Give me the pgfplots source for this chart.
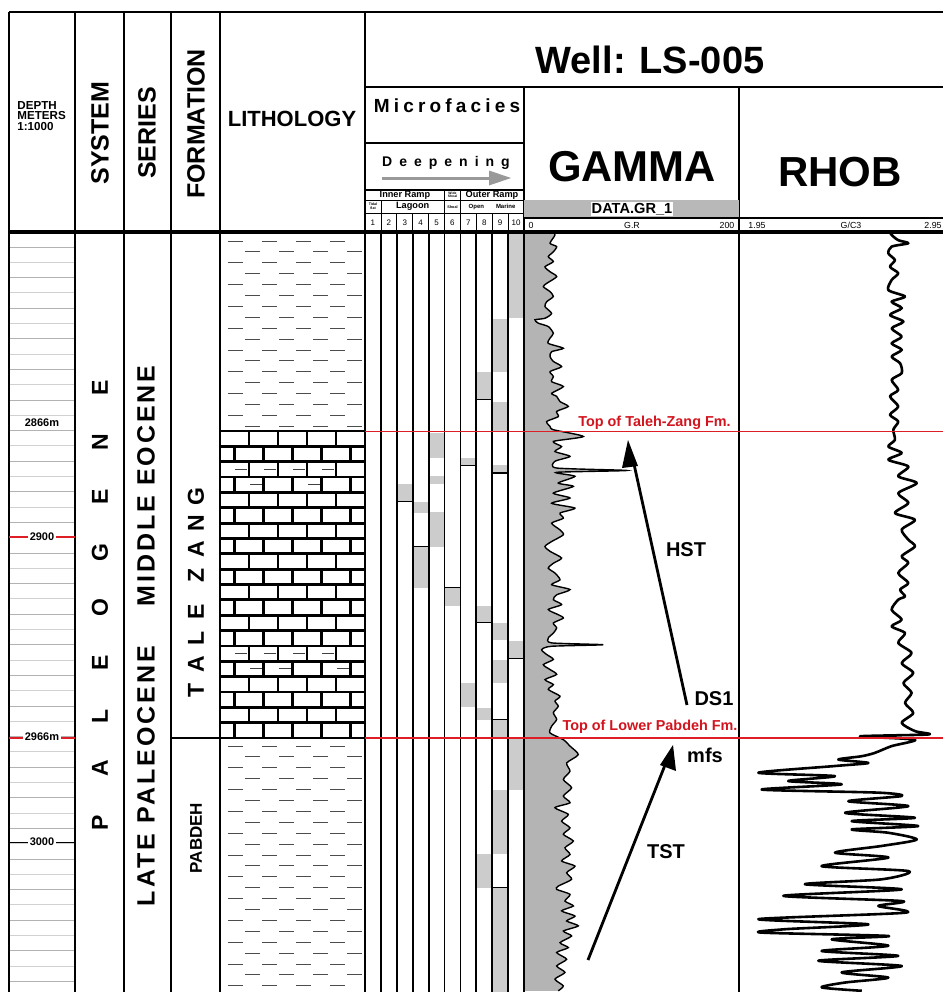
\documentclass[border=0pt]{standalone}
\usepackage{pgfplots}
\pgfplotsset{compat=1.18}
\usepackage{pgfplotstable}
\usepackage{fontspec}
\setmainfont{Liberation Sans}
\definecolor{mfgray}{RGB}{204,204,204}
\definecolor{grfill}{RGB}{180,180,180}
\definecolor{redl}{RGB}{222,30,36}
\definecolor{redt}{RGB}{210,20,30}
\newcommand{\fs}[1]{\fontsize{#1}{#1}\selectfont\bfseries}

\pgfplotstableread{
gr depth
25.7 2800.2
28.8 2801.8
24.2 2804.5
30.4 2805.6
27.3 2807.3
22.6 2808.9
27.3 2810.5
19.5 2812.2
24.2 2813.8
30.4 2815.4
21.1 2817.6
18.0 2818.7
24.2 2820.3
27.3 2821.9
21.1 2823.6
19.5 2825.2
25.7 2827.4
19.5 2829.0
10.2 2829.5
13.3 2830.6
22.6 2831.7
27.3 2833.9
24.2 2835.5
22.6 2837.2
36.6 2838.8
25.7 2839.9
24.2 2841.5
27.3 2843.1
35.0 2844.8
24.2 2846.4
27.3 2848.0
25.7 2849.7
36.6 2851.3
25.7 2853.5
30.4 2854.5
33.5 2856.2
41.2 2857.8
30.4 2859.4
31.9 2861.1
21.1 2862.7
24.2 2864.3
27.3 2865.4
55.2 2867.6
27.3 2869.2
35.0 2870.9
28.8 2872.5
42.8 2874.1
28.8 2875.7
30.4 2877.9
95.5 2878.7
30.4 2879.3
47.4 2880.6
31.9 2882.8
45.9 2883.9
27.3 2886.1
42.8 2887.7
25.7 2889.4
47.4 2891.0
33.5 2892.6
36.6 2894.3
25.7 2895.9
33.5 2898.1
36.6 2899.7
25.7 2901.9
19.5 2903.5
24.2 2905.1
35.0 2907.3
27.3 2909.0
22.6 2910.6
28.8 2912.2
33.5 2914.4
25.7 2916.0
42.8 2917.6
30.4 2919.3
27.3 2920.9
35.0 2922.5
22.6 2924.1
31.9 2925.8
36.6 2926.9
27.3 2928.5
30.4 2930.1
27.3 2931.8
22.6 2933.4
25.7 2935.0
73.8 2935.6
25.7 2936.1
16.4 2937.2
21.1 2938.8
27.3 2940.4
18.0 2942.1
24.2 2943.7
30.4 2945.3
19.5 2947.0
27.3 2948.6
22.6 2950.2
33.5 2952.4
28.8 2954.0
31.9 2955.7
27.3 2957.8
30.4 2960.0
25.7 2962.2
24.2 2964.4
36.6 2966.6
42.8 2968.7
50.5 2971.5
39.7 2974.2
42.8 2976.9
36.6 2979.6
44.3 2982.3
36.6 2985.0
42.8 2987.2
28.8 2988.8
41.2 2991.0
35.0 2993.2
42.8 2995.4
36.6 2997.5
45.9 2999.7
38.1 3001.9
42.8 3004.1
35.0 3006.2
47.4 3007.9
39.7 3010.0
44.3 3012.2
31.9 3014.4
30.4 3015.5
42.8 3017.1
38.1 3019.3
45.9 3020.9
35.0 3022.5
47.4 3024.2
39.7 3025.8
50.5 3027.4
36.6 3029.1
44.3 3030.7
33.5 3032.9
41.2 3034.5
30.4 3036.1
39.7 3038.3
30.4 3040.5
38.1 3042.6
28.8 3044.8
36.6 3047.0
31.9 3048.6
}\grdata

\pgfplotstableread{
rhob depth
2.675 2800.2
2.691 2801.8
2.723 2803.5
2.772 2804.5
2.691 2805.6
2.675 2807.8
2.707 2810.0
2.683 2812.2
2.723 2814.3
2.691 2816.5
2.675 2819.8
2.756 2821.9
2.691 2823.6
2.740 2825.7
2.683 2827.9
2.748 2830.1
2.691 2832.3
2.740 2835.0
2.691 2837.2
2.740 2839.3
2.691 2841.5
2.732 2843.7
2.740 2846.9
2.691 2849.1
2.723 2852.4
2.683 2854.5
2.723 2857.8
2.683 2860.5
2.723 2862.7
2.699 2865.4
2.707 2868.7
2.675 2870.9
2.740 2873.0
2.675 2875.2
2.772 2877.4
2.723 2880.6
2.813 2882.8
2.723 2886.1
2.772 2889.3
2.707 2892.6
2.804 2894.8
2.740 2898.0
2.772 2901.3
2.804 2903.5
2.740 2906.7
2.772 2908.9
2.723 2912.2
2.772 2915.4
2.732 2917.6
2.756 2919.8
2.723 2920.9
2.691 2924.2
2.740 2927.4
2.691 2929.6
2.756 2931.8
2.723 2935.0
2.788 2938.3
2.740 2941.6
2.796 2944.8
2.748 2948.1
2.788 2951.3
2.756 2954.6
2.796 2957.9
2.740 2961.1
2.804 2963.8
2.869 2964.9
2.537 2965.5
2.804 2966.6
2.691 2968.7
2.610 2970.9
2.546 2972.0
2.432 2973.1
2.578 2974.2
2.416 2975.2
2.044 2977.4
2.416 2978.5
2.189 2980.1
2.448 2981.2
2.060 2982.9
2.626 2983.9
2.740 2985.0
2.481 2986.7
2.772 2988.3
2.465 2990.5
2.804 2992.1
2.497 2993.2
2.820 2994.8
2.497 2995.9
2.675 2997.0
2.813 2999.2
2.643 3001.3
2.416 3003.5
2.675 3005.1
2.351 3007.9
2.772 3009.5
2.643 3012.2
2.270 3013.8
2.740 3015.5
2.165 3017.6
2.740 3019.3
2.626 3020.9
2.756 3023.1
2.044 3025.2
2.578 3026.9
2.173 3028.5
2.060 3029.6
2.675 3030.7
2.400 3031.8
2.675 3033.9
2.351 3035.6
2.723 3037.2
2.335 3038.8
2.740 3040.5
2.448 3042.6
2.675 3044.3
2.465 3045.9
2.351 3047.5
2.546 3048.6
}\rhobdata

\begin{document}
\begin{tikzpicture}
\pgfplotsset{track/.style={scale only axis, axis lines=none, y dir=reverse, ymin=2801, ymax=3049, height=379.75pt, anchor=north west, clip=true}}

% ---------- microfacies ----------
\begin{axis}[track, at={(182.5pt,-116.25pt)}, width=79.5pt, xmin=0, xmax=10]
\addplot[fill=mfgray, draw=none] coordinates {(9,2801) (10,2801) (10,2828.9) (9,2828.9)} -- cycle;
\addplot[fill=mfgray, draw=none] coordinates {(8,2829.2) (9,2829.2) (9,2846.5) (8,2846.5)} -- cycle;
\addplot[fill=mfgray, draw=none] coordinates {(8,2856.3) (9,2856.3) (9,2866.0) (8,2866.0)} -- cycle;
\addplot[fill=mfgray, draw=none] coordinates {(8,2876.9) (9,2876.9) (9,2879.5) (8,2879.5)} -- cycle;
\addplot[fill=mfgray, draw=none] coordinates {(7,2846.5) (8,2846.5) (8,2855.6) (7,2855.6)} -- cycle;
\addplot[fill=mfgray, draw=none] coordinates {(4,2866.4) (5,2866.4) (5,2874.6) (4,2874.6)} -- cycle;
\addplot[fill=mfgray, draw=none] coordinates {(4,2880.4) (5,2880.4) (5,2883.1) (4,2883.1)} -- cycle;
\addplot[fill=mfgray, draw=none] coordinates {(6,2874.6) (7,2874.6) (7,2877.2) (6,2877.2)} -- cycle;
\addplot[fill=mfgray, draw=none] coordinates {(2,2883.1) (3,2883.1) (3,2888.9) (2,2888.9)} -- cycle;
\addplot[fill=mfgray, draw=none] coordinates {(3,2888.9) (4,2888.9) (4,2892.5) (3,2892.5)} -- cycle;
\addplot[fill=mfgray, draw=none] coordinates {(4,2892.2) (5,2892.2) (5,2903.6) (4,2903.6)} -- cycle;
\addplot[fill=mfgray, draw=none] coordinates {(3,2903.6) (4,2903.6) (4,2917.0) (3,2917.0)} -- cycle;
\addplot[fill=mfgray, draw=none] coordinates {(5,2917.0) (6,2917.0) (6,2922.9) (5,2922.9)} -- cycle;
\addplot[fill=mfgray, draw=none] coordinates {(7,2922.9) (8,2922.9) (8,2928.4) (7,2928.4)} -- cycle;
\addplot[fill=mfgray, draw=none] coordinates {(8,2928.4) (9,2928.4) (9,2934.0) (8,2934.0)} -- cycle;
\addplot[fill=mfgray, draw=none] coordinates {(9,2934.3) (10,2934.3) (10,2940.2) (9,2940.2)} -- cycle;
\addplot[fill=mfgray, draw=none] coordinates {(8,2940.5) (9,2940.5) (9,2948.0) (8,2948.0)} -- cycle;
\addplot[fill=mfgray, draw=none] coordinates {(6,2948.0) (7,2948.0) (7,2955.8) (6,2955.8)} -- cycle;
\addplot[fill=mfgray, draw=none] coordinates {(7,2956.1) (8,2956.1) (8,2960.1) (7,2960.1)} -- cycle;
\addplot[fill=mfgray, draw=none] coordinates {(8,2960.1) (9,2960.1) (9,2966.0) (8,2966.0)} -- cycle;
\addplot[fill=mfgray, draw=none] coordinates {(9,2966.0) (10,2966.0) (10,2982.9) (9,2982.9)} -- cycle;
\addplot[fill=mfgray, draw=none] coordinates {(8,2982.9) (9,2982.9) (9,3003.8) (8,3003.8)} -- cycle;
\addplot[fill=mfgray, draw=none] coordinates {(7,3003.8) (8,3003.8) (8,3014.9) (7,3014.9)} -- cycle;
\addplot[fill=mfgray, draw=none] coordinates {(8,3014.9) (9,3014.9) (9,3049) (8,3049)} -- cycle;
% dark boundary lines
\addplot[black, line width=0.6pt] coordinates {(7,2855.6) (8,2855.6)};
\addplot[black, line width=0.6pt] coordinates {(8,2879.5) (9,2879.5)};
\addplot[black, line width=0.6pt] coordinates {(6,2877.2) (7,2877.2)};
\addplot[black, line width=0.6pt] coordinates {(2,2888.9) (3,2888.9)};
\addplot[black, line width=0.6pt] coordinates {(3,2903.6) (4,2903.6)};
\addplot[black, line width=0.6pt] coordinates {(5,2917.0) (6,2917.0)};
\addplot[black, line width=0.6pt] coordinates {(7,2928.4) (8,2928.4)};
\addplot[black, line width=0.6pt] coordinates {(9,2940.2) (10,2940.2)};
\addplot[black, line width=0.6pt] coordinates {(8,2960.1) (9,2960.1)};
\addplot[black, line width=0.6pt] coordinates {(8,3014.9) (9,3014.9)};
\end{axis}

% ---------- gamma ray ----------
\begin{axis}[track, at={(262pt,-116.25pt)}, width=107.5pt, xmin=0, xmax=200]
\addplot[fill=grfill, draw=none, smooth, tension=0.4] table[x=gr,y=depth] {\grdata} -- (axis cs:0,3048.6) -- (axis cs:0,2800.2) -- cycle;
\addplot[black, line width=0.7pt, smooth, tension=0.4] table[x=gr,y=depth] {\grdata};
\end{axis}

% ---------- RHOB ----------
\begin{axis}[track, at={(369.5pt,-116.25pt)}, width=103pt, xmin=1.95, xmax=2.95]
\addplot[black, line width=1.3pt, smooth, tension=0.45, line join=round] table[x=rhob,y=depth] {\rhobdata};
\end{axis}

% ---------- frame, patterns, text (pixel units) ----------
\begin{scope}[x=0.5pt,y=-0.5pt]
% depth column thin lines
\foreach \k in {0,...,48}{
  \pgfmathtruncatemacro\odd{mod(\k,2)}
  \ifnum\odd=0 \def\lc{black!30}\else\def\lc{black!18}\fi
  \draw[\lc, line width=0.5pt] (9,247+\k*15.3) -- (75,247+\k*15.3);
}
% shale patterns
\foreach \r in {0,...,17}{
  \pgfmathtruncatemacro\odd{mod(\r,2)}
  \foreach \j in {0,...,3}{
    \pgfmathsetmacro\xa{228+\j*34+\odd*17}
    \draw[black!70, line width=0.45pt] (\xa,241+\r*10.9) -- ++(15,0);
  }
}
\foreach \r in {0,...,22}{
  \pgfmathtruncatemacro\odd{mod(\r,2)}
  \foreach \j in {0,...,3}{
    \pgfmathsetmacro\xa{228+\j*34+\odd*17}
    \draw[black!70, line width=0.45pt] (\xa,746+\r*10.9) -- ++(15,0);
  }
}
% limestone bricks
\foreach \k in {0,...,20}{
  \draw[black, line width=1.4pt] (220,431+\k*15.35) -- (365,431+\k*15.35);
}
\foreach \k in {0,...,19}{
  \pgfmathtruncatemacro\odd{mod(\k,2)}
  \pgfmathsetmacro\off{\odd==0 ? 29 : 14.5}
  \foreach \j in {0,...,4}{
    \pgfmathsetmacro\xv{220+\off+\j*29}
    \pgfmathparse{\xv<362 ? 1 : 0}
    \ifnum\pgfmathresult=1
      \draw[black, line width=1.4pt] (\xv,431+\k*15.35) -- (\xv,431+\k*15.35+15.35);
    \fi
  }
}
% argillaceous dashes in limestone
\foreach \xx/\yy in {241/469, 270/469, 299/469, 328/469, 256/484, 314/484, 241/653, 270/653, 299/653, 328/653, 256/668, 285/668, 343/668}{
  \draw[black!75, line width=0.5pt] (\xx-6,\yy) -- (\xx+6,\yy);
}

% main column lines
\draw[black, line width=1.2pt] (9,12) -- (943,12);
\foreach \xx in {9,75,124,171,220}{\draw[black, line width=1.1pt] (\xx,12) -- (\xx,992);}
\draw[black, line width=1.4pt] (365,12) -- (365,992);
\draw[black, line width=1.1pt] (524,87) -- (524,992);
\draw[black, line width=1.1pt] (739,87) -- (739,992);
\draw[black, line width=1.1pt] (365,87) -- (943,87);
% formation boundary line
\draw[black, line width=1.1pt] (171,738) -- (220,738);
% microfacies header
\draw[black, line width=0.9pt] (365,143) -- (524,143);
\draw[black, line width=0.6pt] (365,190) -- (524,190);
\draw[black, line width=0.4pt] (365,200) -- (524,200);
\draw[black, line width=0.4pt] (365,213) -- (524,213);
\draw[black, line width=0.4pt] (444.5,190) -- (444.5,213);
\draw[black, line width=0.4pt] (460.4,190) -- (460.4,213);
\draw[black, line width=0.4pt] (380.9,200) -- (380.9,213);
\foreach \k in {1,...,9}{
  \draw[black, line width=0.4pt] (365+\k*15.9,213) -- (365+\k*15.9,232);
  \draw[black, line width=0.9pt] (365+\k*15.9,232) -- (365+\k*15.9,992);
}
\foreach \k in {1,...,10}{
  \node[font=\fs{4}\mdseries, inner sep=0] at (357.05+\k*15.9,222.5) {\k};
}
\node[font=\fs{4.6}, inner sep=0] at (405,195) {Inner Ramp};
\node[font=\fs{4.6}, inner sep=0] at (492,195) {Outer Ramp};
\node[font=\fs{1.7}, inner sep=0, align=center] at (452.5,195) {Wide\\Shoal};
\node[font=\fs{4.6}, inner sep=0] at (412.7,206.5) {Lagoon};
\node[font=\fs{1.8}, inner sep=0, align=center] at (373,206.5) {Tidal\\flat};
\node[font=\fs{1.9}, inner sep=0] at (452.5,207) {Shoal};
\node[font=\fs{3}, inner sep=0] at (492,207) {Open\hspace{6pt}Marine};
\node[font=\fs{9.5}\addfontfeature{LetterSpace=22}, inner sep=0] at (447,106) {Microfacies};
\node[font=\fs{7}\addfontfeature{LetterSpace=50}, inner sep=0] at (446,163) {Deepening};
\fill[black!40] (382,176.5) rectangle (492,179.5);
\fill[black!40] (489,170.5) -- (511,178) -- (489,185.5) -- cycle;

% gamma / rhob header
\fill[black!28] (524,200) rectangle (739,217);
\node[font=\fs{7.3}, fill=white, inner sep=0.6pt] at (632,209) {DATA.GR\_1};
\draw[black, line width=0.7pt] (524,218) -- (943,218);
\node[font=\fs{4.4}\mdseries, inner sep=0] at (531,225.5) {0};
\node[font=\fs{4.4}\mdseries, inner sep=0] at (632,225.5) {G.R};
\node[font=\fs{4.4}\mdseries, inner sep=0] at (727,225.5) {200};
\node[font=\fs{4.4}\mdseries, inner sep=0] at (757,225.5) {1.95};
\node[font=\fs{4.4}\mdseries, inner sep=0] at (851,225.5) {G/C3};
\node[font=\fs{4.4}\mdseries, inner sep=0, anchor=east] at (942,225.5) {2.95};
\node[font=\fs{21.6}, inner sep=0] at (632,167) {GAMMA};
\node[font=\fs{21}, inner sep=0] at (840,172) {RHOB};
\node[font=\fs{19}, inner sep=0] at (650,60) {Well: LS-005};

% header texts
\node[font=\fs{5.8}, align=left, inner sep=0, anchor=west] at (17,116) {DEPTH\\[-0.5pt]METERS\\[-0.5pt]1:1000};
\node[font=\fs{12.5}, rotate=90, inner sep=0] at (100,133) {SYSTEM};
\node[font=\fs{12.5}, rotate=90, inner sep=0] at (147,133) {SERIES};
\node[font=\fs{12.5}, rotate=90, inner sep=0] at (196,124) {FORMATION};
\node[font=\fs{11}, inner sep=0] at (292,119) {LITHOLOGY};

% header / body separator
\draw[black, line width=1.6pt] (9,232) -- (943,232);

% body texts
\foreach \L/\yy in {P/823, A/768, L/716, E/663, O/608, G/553, E/497, N/442, E/388}{
  \node[font=\fs{11.5}, rotate=90, inner sep=0] at (100,\yy) {\L};
}
\node[font=\fs{12.5}\addfontfeature{LetterSpace=12}, rotate=90, inner sep=0] at (146,776) {LATE PALEOCENE};
\node[font=\fs{12.5}\addfontfeature{LetterSpace=12}, rotate=90, inner sep=0] at (146,486) {MIDDLE EOCENE};
\foreach \L/\yy in {T/690, A/664, L/638, E/612, Z/575, A/549, N/523, G/497}{
  \node[font=\fs{11.5}, rotate=90, inner sep=0] at (196,\yy) {\L};
}
\node[font=\fs{8.5}, rotate=90, inner sep=0] at (196,838) {PABDEH};

% depth labels
\node[font=\fs{5.5}, inner sep=0] at (42,423) {2866m};
\draw[redl, line width=0.7pt] (9,537) -- (75,537);
\node[font=\fs{5.5}, fill=white, inner sep=0.8pt] at (42,537) {2900};
\draw[redl, line width=0.7pt] (9,738) -- (75,738);
\node[font=\fs{5.5}, fill=white, inner sep=0.8pt] at (42,737) {2966m};
\draw[black, line width=0.5pt] (9,842) -- (75,842);
\node[font=\fs{5.5}, fill=white, inner sep=0.8pt] at (42,842) {3000};

% red tops
\draw[redl, line width=0.8pt] (365,431.5) -- (943,431.5);
\draw[redl, line width=0.8pt] (365,738) -- (943,738);
\node[font=\fs{7.2}, text=redt, inner sep=0] at (654.5,423) {Top of Taleh-Zang Fm.};
\node[font=\fs{7.2}, text=redt, inner sep=0] at (650,727) {Top of Lower Pabdeh Fm.};

% sequence arrows
\draw[black, line width=1.4pt] (687,705) -- (632,455);
\fill[black] (628,440) -- (638,466) -- (622,468) -- cycle;
\draw[black, line width=1.4pt] (588,960) -- (667,760);
\fill[black] (673,745) -- (676,771) -- (660,765) -- cycle;
\node[font=\fs{10}, inner sep=0] at (686,550) {HST};
\node[font=\fs{10}, inner sep=0] at (714,699) {DS1};
\node[font=\fs{10}, inner sep=0] at (705,755) {mfs};
\node[font=\fs{10}, inner sep=0] at (666,852) {TST};
\end{scope}
\pgfresetboundingbox
\useasboundingbox (0pt,0pt) rectangle (471.5pt,-496pt);
\end{tikzpicture}
\end{document}
